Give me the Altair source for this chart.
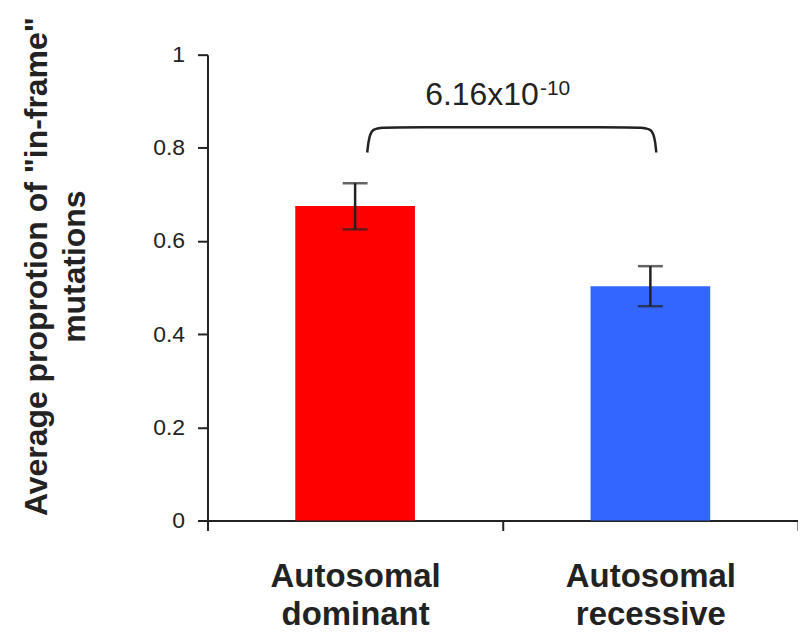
import altair as alt
import pandas as pd

# ---- data ----
categories = ["Autosomal dominant", "Autosomal recessive"]
means = [0.675, 0.503]
err_low = [0.625, 0.460]
err_high = [0.724, 0.546]
bar_colors = ["#FF0000", "#3366FF"]

# significance bracket (annotation, on a hidden 0..2 x scale)
bracket_x = [0.541, 0.550, 0.60, 1.46, 1.512, 1.520]
bracket_y = [0.790, 0.844, 0.844, 0.844, 0.844, 0.790]
p_main = "6.16x10"
p_exp = "-10"
p_main_pos = (1.122, 0.893)
p_exp_pos = (1.126, 0.913)

y_ticks = [0, 0.2, 0.4, 0.6, 0.8, 1]
y_title = ['Average proprotion of "in-frame"', "mutations"]

FONT = "Liberation Sans"
INK = "#222222"

df = pd.DataFrame({"cat": categories, "mean": means, "lo": err_low,
                   "hi": err_high, "color": bar_colors})

yscale = alt.Scale(domain=[0, 1])
yaxis = alt.Axis(values=y_ticks, format="~g", title=y_title, grid=False,
                 labelFontSize=23, labelPadding=13, tickSize=10,
                 titleFontSize=32, titleFontWeight="bold", titleAngle=270,
                 titleX=-186, titleY=212, titleBaseline="top",
                 titleAlign="center", titleLineHeight=38, titleColor=INK,
                 titleFont=FONT)

xscale = alt.Scale(paddingInner=0, paddingOuter=0)
xaxis = alt.Axis(title=None, tickBand="extent", labelAngle=0,
                 labelExpr="split(datum.label, ' ')", labelFontSize=33,
                 labelFontWeight="bold", labelLineHeight=38, labelPadding=30,
                 tickSize=10, grid=False)

X = alt.X("cat:N", sort=categories, scale=xscale, axis=xaxis)

bars = alt.Chart(df).mark_bar(width=120).encode(
    x=X,
    y=alt.Y("mean:Q", scale=yscale, axis=yaxis),
    color=alt.Color("color:N", scale=None),
)
rules = alt.Chart(df).mark_rule(strokeWidth=2.5, color=INK).encode(
    x=X, y=alt.Y("lo:Q", scale=yscale, axis=yaxis), y2="hi:Q"
)
cap_hi = alt.Chart(df).mark_tick(size=25, thickness=2.5, color=INK).encode(
    x=X, y=alt.Y("hi:Q", scale=yscale, axis=yaxis)
)
cap_lo = alt.Chart(df).mark_tick(size=25, thickness=2.5, color=INK).encode(
    x=X, y=alt.Y("lo:Q", scale=yscale, axis=yaxis)
)

qx = alt.Scale(domain=[0, 2])
bdf = pd.DataFrame({"bx": bracket_x, "by": bracket_y,
                    "ord": list(range(len(bracket_x)))})
bracket = alt.Chart(bdf).mark_line(interpolate="basis", color=INK,
                                   strokeWidth=2.5).encode(
    x=alt.X("bx:Q", scale=qx, axis=None),
    y=alt.Y("by:Q", scale=yscale, axis=yaxis),
    order="ord:Q",
)
tdf1 = pd.DataFrame({"tx": [p_main_pos[0]], "ty": [p_main_pos[1]], "t": [p_main]})
tdf2 = pd.DataFrame({"tx": [p_exp_pos[0]], "ty": [p_exp_pos[1]], "t": [p_exp]})
t_main = alt.Chart(tdf1).mark_text(align="right", baseline="alphabetic",
                                   fontSize=32, font=FONT, color=INK).encode(
    x=alt.X("tx:Q", scale=qx, axis=None),
    y=alt.Y("ty:Q", scale=yscale, axis=yaxis),
    text="t:N",
)
t_exp = alt.Chart(tdf2).mark_text(align="left", baseline="alphabetic",
                                  fontSize=21, font=FONT, color=INK).encode(
    x=alt.X("tx:Q", scale=qx, axis=None),
    y=alt.Y("ty:Q", scale=yscale, axis=yaxis),
    text="t:N",
)

base = alt.layer(bars, rules, cap_hi, cap_lo)
annot = alt.layer(bracket, t_main, t_exp)

chart = alt.layer(base, annot).resolve_scale(x="independent").properties(
    width=592, height=467,
    autosize=alt.AutoSizeParams(type="none"),
    padding={"left": 200, "top": 46, "right": 0, "bottom": 112},
    background="white",
).configure_view(stroke=None).configure_axis(
    domainColor=INK, domainWidth=2, tickColor=INK, tickWidth=2,
    labelFont=FONT, labelColor=INK,
)

chart.save("out.html", embed_options={"renderer": "svg", "actions": False})
